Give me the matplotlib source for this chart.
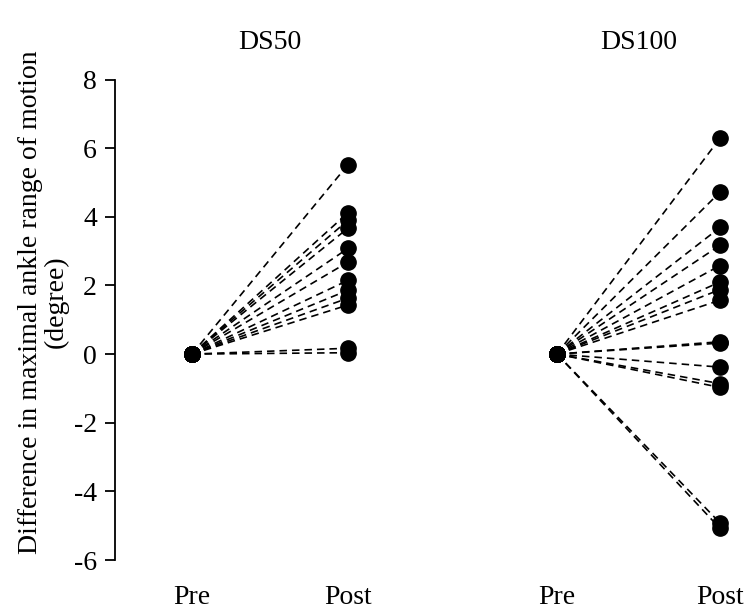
import matplotlib
matplotlib.use("Agg")
import matplotlib.pyplot as plt
import matplotlib.transforms as mtransforms

plt.rcParams['font.family'] = ['Liberation Serif', 'DejaVu Serif']

groups = ["DS50", "DS100"]
phases = ["Pre", "Post"]
ds50_post = [5.52, 4.12, 3.90, 3.67, 3.08, 2.68, 2.15, 1.86, 1.63, 1.43, 0.17, 0.04]
ds100_post = [6.29, 4.72, 3.69, 3.17, 2.58, 2.10, 1.88, 1.57, 0.36, 0.32, -0.38, -0.86, -0.97, -4.92, -5.08]
post_values = [ds50_post, ds100_post]
yticks = [-6, -4, -2, 0, 2, 4, 6, 8]

group_x = [(1.0, 2.0), (3.34, 4.385)]

fig = plt.figure(figsize=(7.52, 6.14), dpi=100)
ax = fig.add_axes([0.1529, 0.0879, 0.8471, 0.7826])

for (xpre, xpost), vals in zip(group_x, post_values):
    for v in vals:
        ax.plot([xpre, xpost], [0, v], color='black', lw=1.2,
                linestyle=(0, (4.5, 3)), marker='o', markersize=11,
                markerfacecolor='black', markeredgecolor='black', zorder=3)

ax.set_xlim(0.506, 4.59)
ax.set_ylim(-6, 8)
ax.set_yticks(yticks)
ax.set_yticklabels([str(t) for t in yticks], fontsize=20)
ax.tick_params(axis='y', direction='out', length=7, width=1.3, pad=6)

xt = [x for pair in group_x for x in pair]
ax.set_xticks(xt)
ax.set_xticklabels(phases * 2, fontsize=20)
ax.tick_params(axis='x', length=0, pad=18)

for s in ['top', 'right', 'bottom']:
    ax.spines[s].set_visible(False)
ax.spines['left'].set_linewidth(1.3)

ax.set_ylabel("Difference in maximal ankle range of motion\n(degree)", fontsize=20, linespacing=1.05)
ax.yaxis.set_label_coords(-0.072, 0.537)

trans = mtransforms.blended_transform_factory(ax.transData, fig.transFigure)
for name, (xpre, xpost) in zip(groups, group_x):
    ax.text((xpre + xpost) / 2, 0.93, name, transform=trans, ha='center', va='center', fontsize=20)

fig.savefig("out.png", dpi=100)
